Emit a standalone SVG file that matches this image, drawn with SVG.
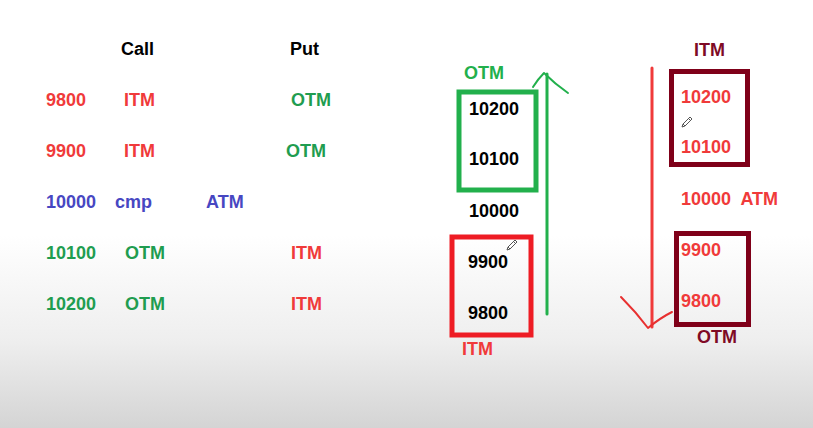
<svg xmlns="http://www.w3.org/2000/svg" width="813" height="428" viewBox="0 0 813 428">
<defs>
<linearGradient id="bg" x1="0" y1="0" x2="0" y2="1">
<stop offset="0" stop-color="#ffffff"/>
<stop offset="0.55" stop-color="#ffffff"/>
<stop offset="0.8" stop-color="#eeeeee"/>
<stop offset="1" stop-color="#d4d4d4"/>
</linearGradient>
<g id="pencil">
<path d="M0 10 L1 7 L8 0 L10 2 L3 9 Z M1 7 L3 9 M6.5 1.5 L8.5 3.5" fill="#ffffff" stroke="#555555" stroke-width="1" stroke-linejoin="round"/>
</g>
</defs>
<style>
text{font-family:"Liberation Sans",Arial,sans-serif;font-weight:bold;font-size:18px}
.k{fill:#000000}
.r{fill:#f03a3a}
.g{fill:#1f9d50}
.gb{fill:#22b04c}
.b{fill:#4747c2}
.m{fill:#7f0a25}
.box{fill:none;stroke-width:5}
</style>
<rect x="0" y="0" width="813" height="428" fill="url(#bg)"/>

<g id="table">
<text class="k" x="121" y="55">Call</text>
<text class="k" x="290" y="55">Put</text>
<text class="r" x="46" y="106">9800</text>
<text class="r" x="124" y="106">ITM</text>
<text class="g" x="291" y="106">OTM</text>
<text class="r" x="46" y="157">9900</text>
<text class="r" x="124" y="157">ITM</text>
<text class="g" x="286" y="157">OTM</text>
<text class="b" x="46" y="208">10000</text>
<text class="b" x="115" y="208">cmp</text>
<text class="b" x="206" y="208">ATM</text>
<text class="g" x="46" y="259">10100</text>
<text class="g" x="125" y="259">OTM</text>
<text class="r" x="291" y="259">ITM</text>
<text class="g" x="46" y="310">10200</text>
<text class="g" x="125" y="310">OTM</text>
<text class="r" x="291" y="310">ITM</text>
</g>

<g id="call-otm-box">
<rect class="box" x="459" y="92" width="77" height="98" stroke="#22b04c"/>
<text class="gb" x="464" y="79">OTM</text>
<text class="k" x="469" y="115">10200</text>
<text class="k" x="469" y="165">10100</text>
</g>
<g id="call-atm">
<text class="k" x="469" y="217">10000</text>
</g>
<g id="call-itm-box">
<rect class="box" x="452" y="237" width="79" height="98" stroke="#ee1c24"/>
<text class="k" x="468" y="268">9900</text>
<text class="k" x="468" y="319">9800</text>
<text class="r" x="462" y="355">ITM</text>
<use href="#pencil" x="507" y="240"/>
</g>

<g id="put-itm-box">
<rect class="box" x="671.5" y="71.5" width="76" height="93" stroke="#7f0019"/>
<text class="m" x="694" y="56">ITM</text>
<text class="r" x="681" y="103">10200</text>
<text class="r" x="681" y="153">10100</text>
<use href="#pencil" x="682" y="117"/>
</g>
<g id="put-atm">
<text class="r" x="681" y="205" xml:space="preserve">10000  ATM</text>
</g>
<g id="put-otm-box">
<rect class="box" x="676.5" y="233.5" width="72" height="91" stroke="#7f0019"/>
<text class="r" x="681" y="256">9900</text>
<text class="r" x="681" y="307">9800</text>
<text class="m" x="697" y="343">OTM</text>
</g>

<g id="connectors" fill="none" stroke-linecap="round" stroke-linejoin="round">
<path d="M547 314 L547 74" stroke="#22b04c" stroke-width="3"/>
<path d="M533 87 Q538 79 544 73 Q555 84 568 93" stroke="#22b04c" stroke-width="2"/>
<path d="M652 68 L652 327" stroke="#f03a3a" stroke-width="3"/>
<path d="M621 297 Q636 312 648 328 Q660 318 672 312" stroke="#e83030" stroke-width="2"/>
</g>
</svg>
